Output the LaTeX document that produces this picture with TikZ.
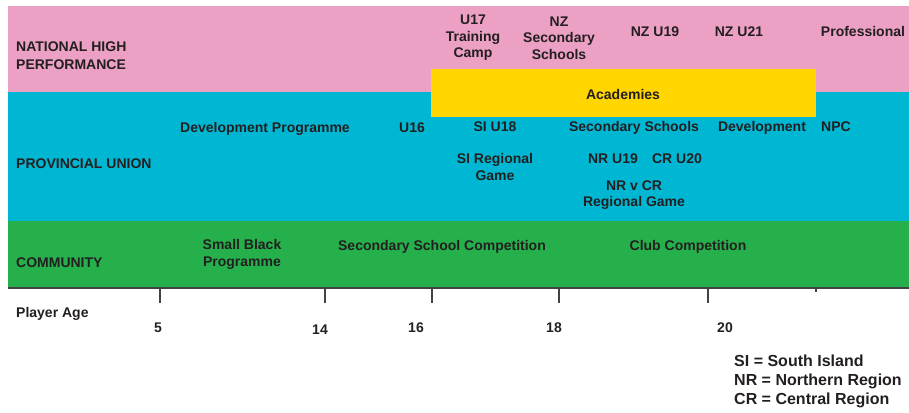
\documentclass[tikz,border=0pt]{standalone}
\usepackage{fontspec}
\setmainfont{Liberation Sans}
\usetikzlibrary{positioning}

\definecolor{hppink}{RGB}{236,160,196}
\definecolor{pucyan}{RGB}{0,183,211}
\definecolor{comgreen}{RGB}{37,176,76}
\definecolor{acadyellow}{RGB}{255,214,0}
\definecolor{ink}{RGB}{35,31,32}

\tikzset{
  mlbl/.style={text=ink, font=\fontsize{14bp}{16.5bp}\selectfont\bfseries, inner sep=0pt, align=center},
  lbl/.style={mlbl, text height=10bp, text depth=0pt},
  rowlbl/.style={lbl, anchor=west},
  keylbl/.style={rowlbl, font=\fontsize{16bp}{19bp}\selectfont\bfseries, text height=11.5bp},
  tick/.style={draw=ink!85, line width=1.5bp}
}

\begin{document}
\begin{tikzpicture}[x=1bp,y=-1bp]
\useasboundingbox (0,0) rectangle (909,412);

% bands
\fill[hppink] (8,6) rectangle (909,92);
\fill[pucyan] (8,92) rectangle (909,221);
\fill[comgreen] (8,221) rectangle (909,288);
\fill[acadyellow] (431,69) rectangle (816,117);

% age axis
\draw[ink!85, line width=2bp] (8,288) -- (909,288);
\foreach \x in {160,325,432,559,708}
  \draw[tick] (\x,288) -- (\x,303);
\draw[tick] (816,288) -- (816,292);

% national high performance
\node[mlbl, anchor=west, align=left, font=\fontsize{14bp}{18bp}\selectfont\bfseries] (nhp) at (16,56) {NATIONAL HIGH\\PERFORMANCE};
\node[mlbl] (u17) at (473,38) {U17\\Training\\Camp};
\node[mlbl] (nzss) at (559,38) {NZ\\Secondary\\Schools};
\node[lbl] (nzu19) at (655,31) {NZ U19};
\node[lbl] (nzu21) at (739,31) {NZ U21};
\node[lbl] (pro) at (863,31) {Professional};
\node[lbl] (acad) at (623,94) {Academies};

% provincial union
\node[rowlbl] (pu) at (16,163) {PROVINCIAL UNION};
\node[lbl] (devprog) at (265,127) {Development Programme};
\node[lbl] (u16) at (412,127) {U16};
\node[lbl] (siu18) at (495,126) {SI U18};
\node[lbl] (secsch) at (634,126) {Secondary Schools};
\node[lbl] (dev) at (762,126) {Development};
\node[lbl] (npc) at (836,126) {NPC};
\node[mlbl] (sireg) at (495,167) {SI Regional\\Game};
\node[lbl] (nru19) at (613,158) {NR U19};
\node[lbl] (cru20) at (677,158) {CR U20};
\node[mlbl] (nrcr) at (634,195) {NR v CR\\Regional Game};

% community
\node[rowlbl] (com) at (16,262) {COMMUNITY};
\node[mlbl] (smallb) at (242,254.5) {Small Black\\Programme};
\node[lbl] (sscomp) at (442,245) {Secondary School Competition};
\node[lbl] (club) at (688,245) {Club Competition};

% ages
\node[rowlbl] (age) at (16,312) {Player Age};
\node[lbl] (a5) at (158,327) {5};
\node[lbl] (a14) at (320,329) {14};
\node[lbl] (a16) at (416,327) {16};
\node[lbl] (a18) at (554,327) {18};
\node[lbl] (a20) at (725,327) {20};

% key
\node[keylbl] (keysi) at (734,361) {SI = South Island};
\node[keylbl] (keynr) at (734,380) {NR = Northern Region};
\node[keylbl] (keycr) at (734,399) {CR = Central Region};
\end{tikzpicture}
\end{document}
